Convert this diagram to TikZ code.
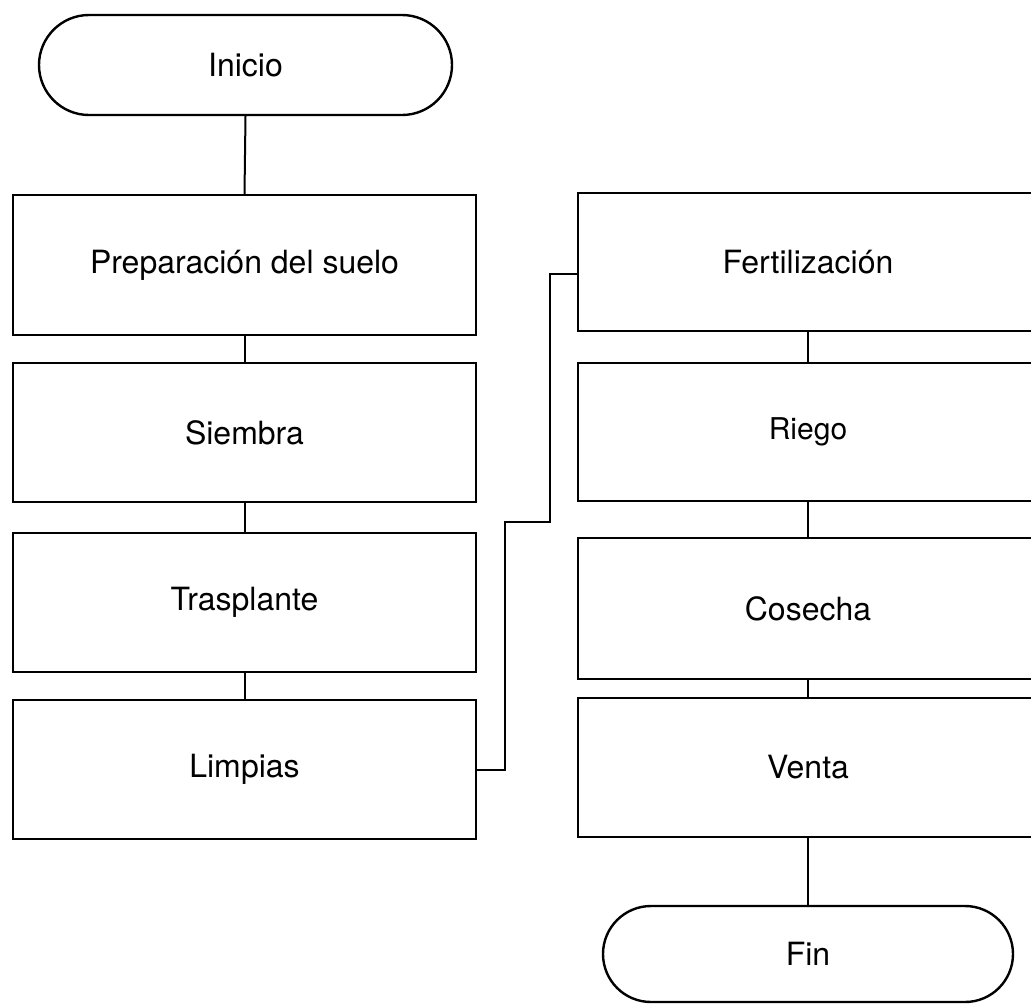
\documentclass[tikz,border=0pt]{standalone}
\usepackage{fontspec}
\setmainfont{TeX Gyre Heros}
\usetikzlibrary{shapes.misc}
\begin{document}
\begin{tikzpicture}[x=1pt,y=-1pt,
  box/.style={draw,line width=2.4pt,rectangle,inner sep=0pt,font=\fontsize{32}{38}\selectfont},
  term/.style={draw,line width=2.4pt,rounded rectangle,inner sep=0pt,font=\fontsize{32}{38}\selectfont},
  conn/.style={line width=2pt}]
\useasboundingbox (0,0) rectangle (1031,1007);
\clip (0,0) rectangle (1031,1007);
% left column
\node[term,minimum width=413pt,minimum height=100pt] (ini) at (245.5,65) {Inicio};
\node[box,minimum width=463pt,minimum height=140pt] (prep) at (244.5,265) {Preparación del suelo};
\node[box,minimum width=463pt,minimum height=139pt] (siem) at (244.5,432.5) {Siembra};
\node[box,minimum width=463pt,minimum height=139pt] (tras) at (244.5,602.5) {Trasplante};
\node[box,minimum width=463pt,minimum height=139pt] (limp) at (244.5,769.5) {Limpias};
% right column
\node[box,minimum width=460pt,minimum height=138pt] (fert) at (808,262) {Fertilización};
\node[box,minimum width=460pt,minimum height=138pt,font=\fontsize{30}{36}\selectfont] (rieg) at (808,432) {Riego};
\node[box,minimum width=460pt,minimum height=141pt] (cose) at (808,608.5) {Cosecha};
\node[box,minimum width=460pt,minimum height=139pt] (vent) at (808,767.5) {Venta};
\node[term,minimum width=410pt,minimum height=96pt] (fin) at (808,954) {Fin};
% connectors
\draw[conn] (ini.south) -- (prep.north);
\draw[conn] (prep.south) -- (siem.north);
\draw[conn] (siem.south) -- (tras.north);
\draw[conn] (tras.south) -- (limp.north);
\coordinate (a) at (505,522);
\coordinate (b) at (550,274);
\draw[conn] (limp.east) -| (a) -- (b |- a) -- (b) -- (fert.west |- b);
\draw[conn] (fert.south) -- (rieg.north);
\draw[conn] (rieg.south) -- (cose.north);
\draw[conn] (cose.south) -- (vent.north);
\draw[conn] (vent.south) -- (fin.north);
\end{tikzpicture}
\end{document}
